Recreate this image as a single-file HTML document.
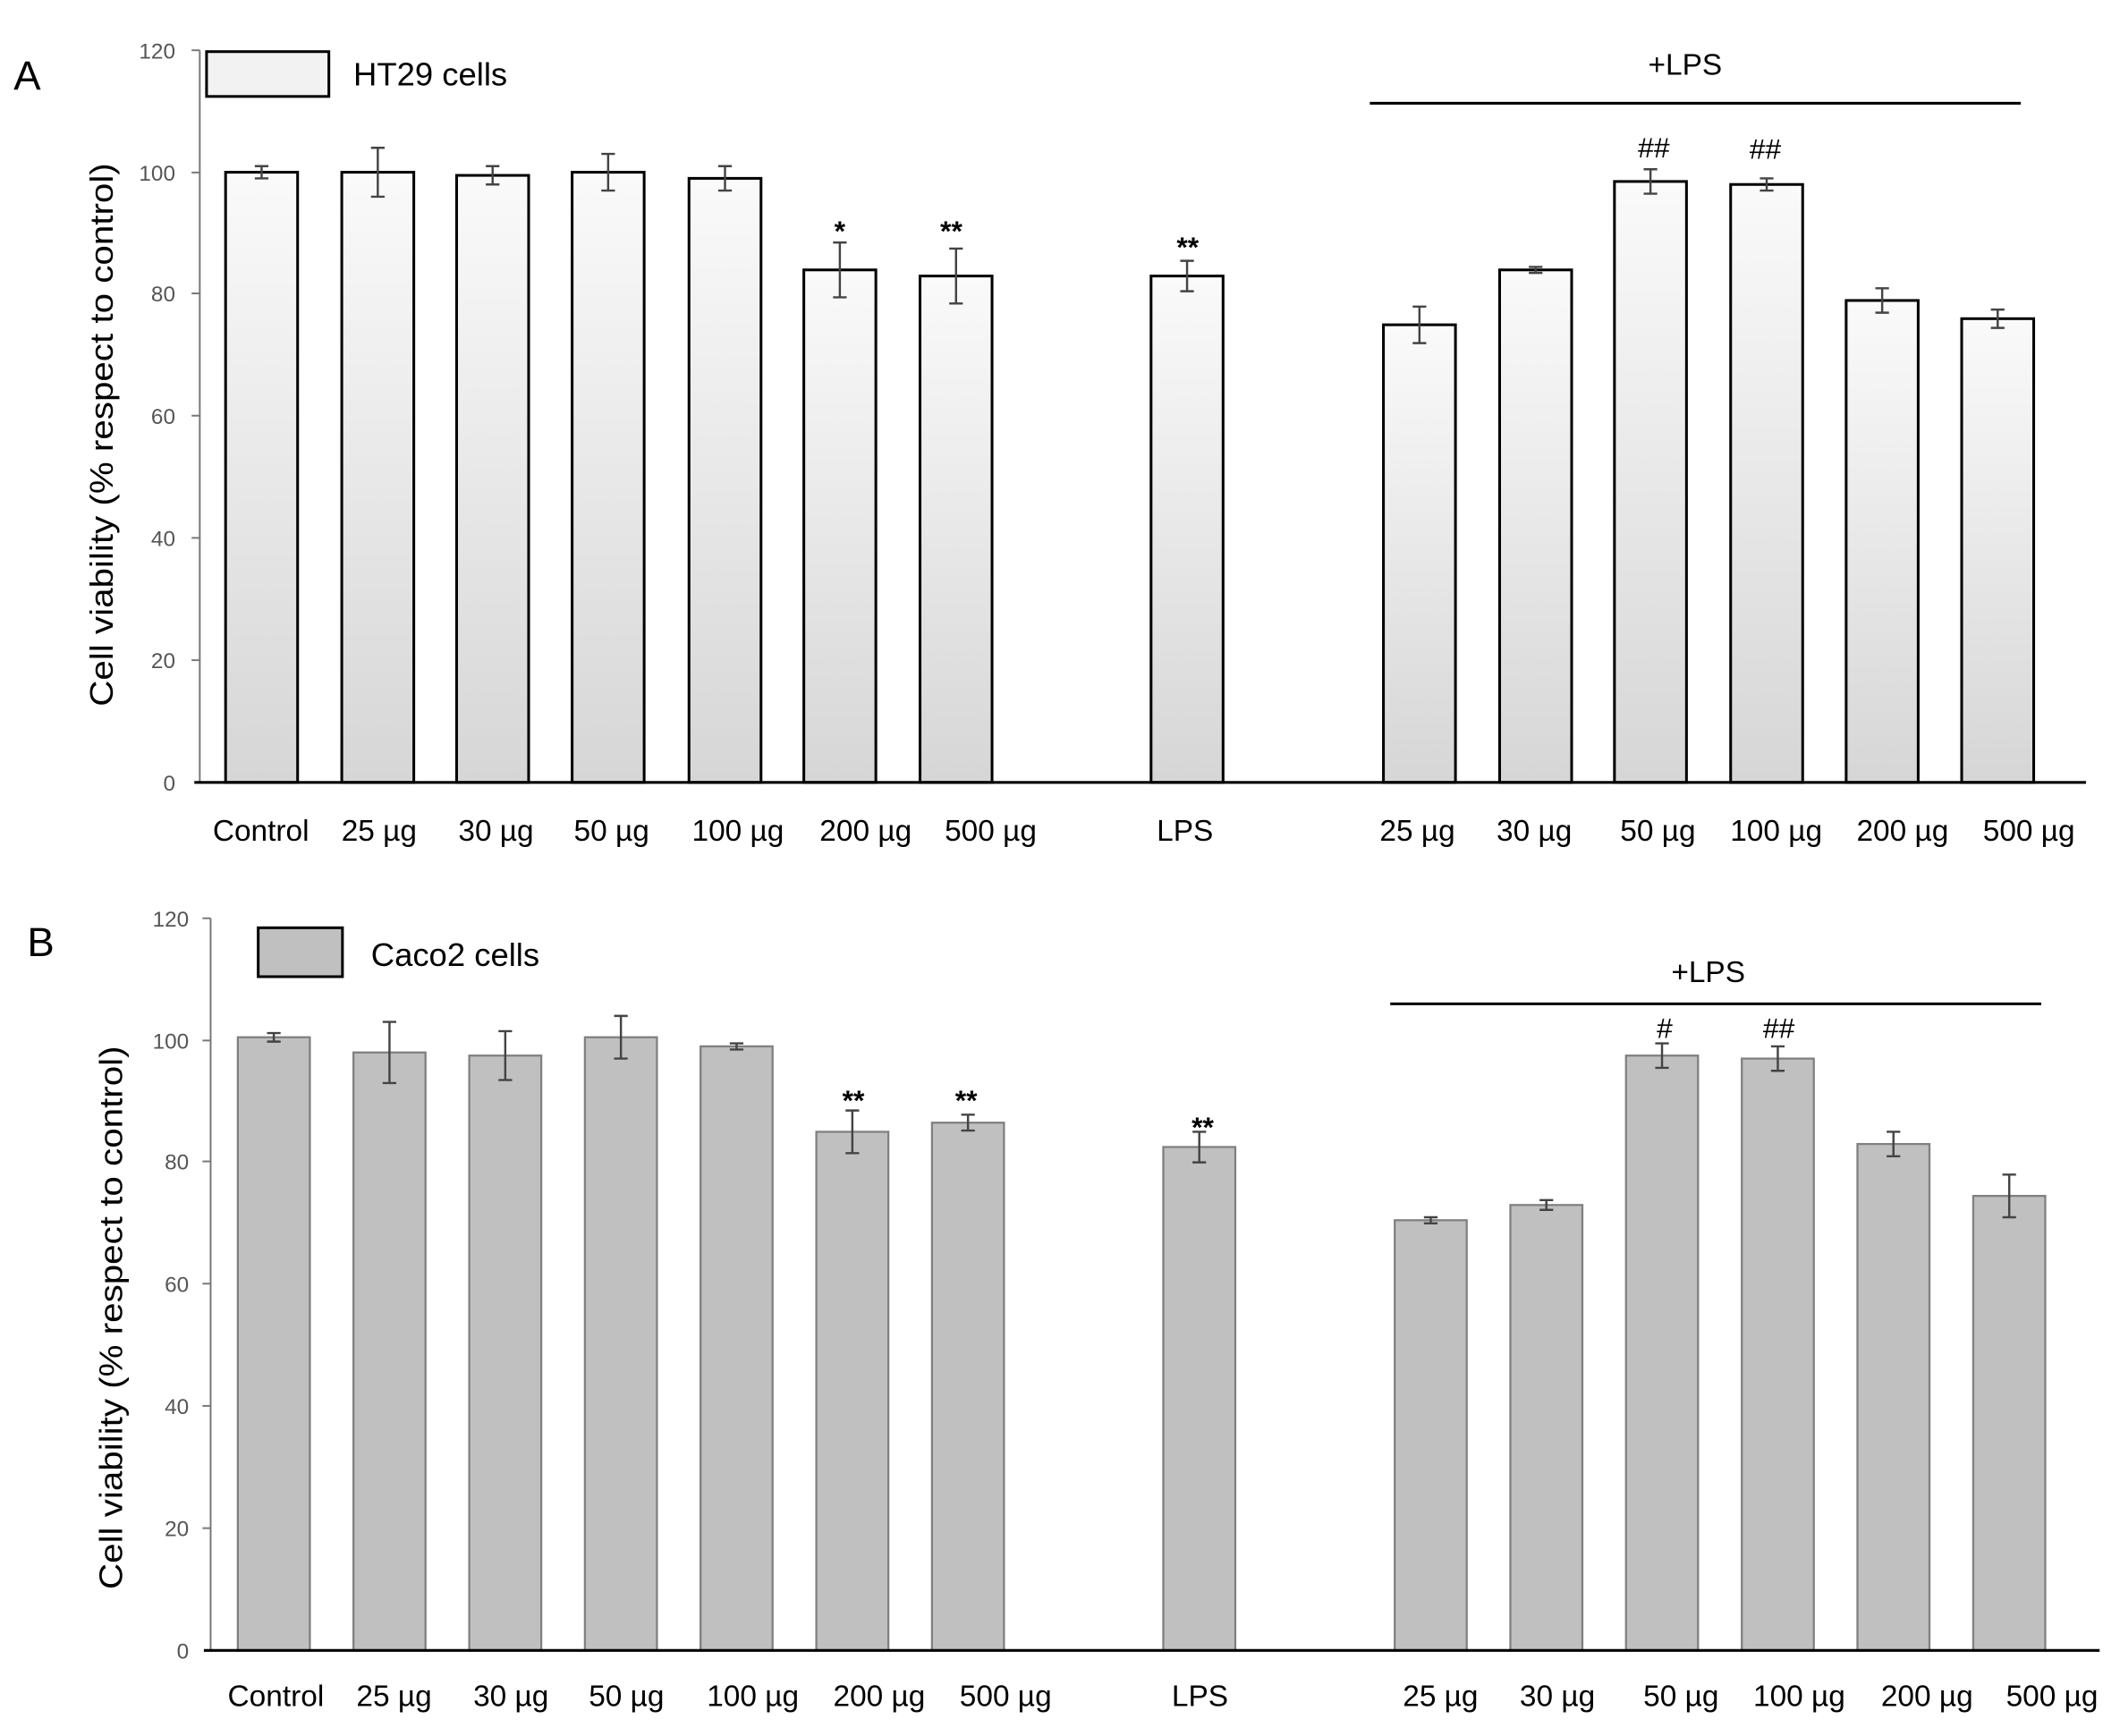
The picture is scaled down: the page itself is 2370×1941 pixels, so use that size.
<!DOCTYPE html>
<html><head><meta charset="utf-8"><style>html,body{margin:0;padding:0;background:#fff}svg{display:block}</style></head>
<body>
<svg width="2370" height="1941" viewBox="0 0 1560 1278" preserveAspectRatio="none" xmlns="http://www.w3.org/2000/svg" font-family="'Liberation Sans', sans-serif">
<defs>
<linearGradient id="g" x1="0" y1="0" x2="0" y2="1"><stop offset="0" stop-color="#fafafa"/><stop offset="1" stop-color="#d6d6d6"/></linearGradient>
</defs>
<!-- Panel A -->
<text x="10" y="66" font-size="30">A</text>
<g stroke="#777" stroke-width="1.3">
<line x1="147" y1="37" x2="147" y2="576"/>
<line x1="141" y1="37" x2="147" y2="37"/><line x1="141" y1="127" x2="147" y2="127"/><line x1="141" y1="216" x2="147" y2="216"/><line x1="141" y1="306" x2="147" y2="306"/><line x1="141" y1="396" x2="147" y2="396"/><line x1="141" y1="486" x2="147" y2="486"/>
</g>
<g font-size="16" fill="#555" text-anchor="end">
<text x="129" y="43">120</text><text x="129" y="133">100</text><text x="129" y="222">80</text><text x="129" y="312">60</text><text x="129" y="402">40</text><text x="129" y="492">20</text><text x="129" y="582">0</text>
</g>
<text transform="translate(83,320) rotate(-90)" font-size="23.5" text-anchor="middle" textLength="400" lengthAdjust="spacingAndGlyphs">Cell viability (% respect to control)</text>
<rect x="152" y="38" width="90" height="33" fill="#f2f2f2" stroke="#000" stroke-width="2"/>
<text x="260" y="63" font-size="24">HT29 cells</text>
<text x="1240" y="55" font-size="22" text-anchor="middle">+LPS</text>
<line x1="1008" y1="76" x2="1487" y2="76" stroke="#000" stroke-width="2"/>
<g fill="url(#g)" stroke="#000" stroke-width="2">
<rect x="166" y="126.8" width="53" height="449.2"/>
<rect x="251.5" y="126.8" width="53" height="449.2"/>
<rect x="336" y="129.1" width="53" height="446.9"/>
<rect x="421" y="126.8" width="53" height="449.2"/>
<rect x="507" y="131.3" width="53" height="444.7"/>
<rect x="591.5" y="198.7" width="53" height="377.3"/>
<rect x="677" y="203.2" width="53" height="372.8"/>
<rect x="847" y="203.2" width="53" height="372.8"/>
<rect x="1018" y="239.1" width="53" height="336.9"/>
<rect x="1103.5" y="198.7" width="53" height="377.3"/>
<rect x="1188" y="133.6" width="53" height="442.4"/>
<rect x="1273.5" y="135.8" width="53" height="440.2"/>
<rect x="1358.5" y="221.2" width="53" height="354.8"/>
<rect x="1443.5" y="234.6" width="53" height="341.4"/>
</g>
<line x1="143" y1="576" x2="1535" y2="576" stroke="#000" stroke-width="2"/>
<g stroke="#444" stroke-width="1.6" fill="none">
<path d="M192.5 122.3V131.3M187.5 122.3h10M187.5 131.3h10"/>
<path d="M278 108.8V144.8M273 108.8h10M273 144.8h10"/>
<path d="M362.5 122.3V135.8M357.5 122.3h10M357.5 135.8h10"/>
<path d="M447.5 113.3V140.3M442.5 113.3h10M442.5 140.3h10"/>
<path d="M533.5 122.3V140.3M528.5 122.3h10M528.5 140.3h10"/>
<path d="M618 178.5V218.9M613 178.5h10M613 218.9h10"/>
<path d="M703.5 183V223.4M698.5 183h10M698.5 223.4h10"/>
<path d="M873.5 192V214.4M868.5 192h10M868.5 214.4h10"/>
<path d="M1044.5 225.7V252.6M1039.5 225.7h10M1039.5 252.6h10"/>
<path d="M1130 196.5V200.9M1125 196.5h10M1125 200.9h10"/>
<path d="M1214.5 124.6V142.6M1209.5 124.6h10M1209.5 142.6h10"/>
<path d="M1300 131.3V140.3M1295 131.3h10M1295 140.3h10"/>
<path d="M1385 212.2V230.2M1380 212.2h10M1380 230.2h10"/>
<path d="M1470 227.9V241.4M1465 227.9h10M1465 241.4h10"/>
</g>
<g font-size="21" text-anchor="middle" font-weight="bold">
<text x="618" y="177">*</text><text x="700" y="177">**</text><text x="874" y="189">**</text>
<text x="1217" y="116" font-weight="normal">##</text><text x="1299" y="117" font-weight="normal">##</text>
</g>
<g font-size="22" text-anchor="middle">
<text x="192" y="619">Control</text><text x="279" y="619">25 µg</text><text x="365" y="619">30 µg</text><text x="450" y="619">50 µg</text><text x="543" y="619">100 µg</text><text x="637" y="619">200 µg</text><text x="729" y="619">500 µg</text>
<text x="872" y="619">LPS</text>
<text x="1043" y="619">25 µg</text><text x="1129" y="619">30 µg</text><text x="1220" y="619">50 µg</text><text x="1307" y="619">100 µg</text><text x="1400" y="619">200 µg</text><text x="1493" y="619">500 µg</text>
</g>

<!-- Panel B -->
<text x="20" y="704" font-size="30">B</text>
<g stroke="#777" stroke-width="1.3">
<line x1="155" y1="676" x2="155" y2="1215"/>
<line x1="149" y1="676" x2="155" y2="676"/><line x1="149" y1="766" x2="155" y2="766"/><line x1="149" y1="855" x2="155" y2="855"/><line x1="149" y1="945" x2="155" y2="945"/><line x1="149" y1="1035" x2="155" y2="1035"/><line x1="149" y1="1125" x2="155" y2="1125"/>
</g>
<g font-size="16" fill="#555" text-anchor="end">
<text x="139" y="682">120</text><text x="139" y="772">100</text><text x="139" y="861">80</text><text x="139" y="951">60</text><text x="139" y="1041">40</text><text x="139" y="1131">20</text><text x="139" y="1221">0</text>
</g>
<text transform="translate(90,970) rotate(-90)" font-size="23.5" text-anchor="middle" textLength="400" lengthAdjust="spacingAndGlyphs">Cell viability (% respect to control)</text>
<rect x="190" y="683" width="62" height="36" fill="#c0c0c0" stroke="#000" stroke-width="2"/>
<text x="273" y="711" font-size="24">Caco2 cells</text>
<text x="1257" y="723" font-size="22" text-anchor="middle">+LPS</text>
<line x1="1023" y1="739" x2="1502" y2="739" stroke="#000" stroke-width="2"/>
<g fill="#c0c0c0" stroke="#808080" stroke-width="1.5">
<rect x="175" y="763.6" width="53" height="451.4"/>
<rect x="260.1" y="774.8" width="53" height="440.2"/>
<rect x="345.3" y="777.1" width="53" height="437.9"/>
<rect x="430.4" y="763.6" width="53" height="451.4"/>
<rect x="515.5" y="770.3" width="53" height="444.7"/>
<rect x="600.7" y="833.2" width="53" height="381.8"/>
<rect x="685.8" y="826.5" width="53" height="388.5"/>
<rect x="856" y="844.4" width="53" height="370.6"/>
<rect x="1026.3" y="898.3" width="53" height="316.7"/>
<rect x="1111.4" y="887.1" width="53" height="327.9"/>
<rect x="1196.5" y="777.1" width="53" height="437.9"/>
<rect x="1281.7" y="779.3" width="53" height="435.7"/>
<rect x="1366.8" y="842.2" width="53" height="372.8"/>
<rect x="1452" y="880.4" width="53" height="334.6"/>
</g>
<line x1="150" y1="1215" x2="1545" y2="1215" stroke="#000" stroke-width="2"/>
<g stroke="#444" stroke-width="1.6" fill="none">
<path d="M201.5 760.5V766.8M196.5 760.5h10M196.5 766.8h10"/>
<path d="M286.6 752.3V797.3M281.6 752.3h10M281.6 797.3h10"/>
<path d="M371.8 759.1V795.1M366.8 759.1h10M366.8 795.1h10"/>
<path d="M456.9 747.9V779.3M451.9 747.9h10M451.9 779.3h10"/>
<path d="M542 768.1V772.6M537 768.1h10M537 772.6h10"/>
<path d="M627.2 817.5V848.9M622.2 817.5h10M622.2 848.9h10"/>
<path d="M712.3 820.6V832.3M707.3 820.6h10M707.3 832.3h10"/>
<path d="M882.5 833.2V855.7M877.5 833.2h10M877.5 855.7h10"/>
<path d="M1052.8 896.1V900.6M1047.8 896.1h10M1047.8 900.6h10"/>
<path d="M1137.9 883.5V890.7M1132.9 883.5h10M1132.9 890.7h10"/>
<path d="M1223 768.1V786.1M1218 768.1h10M1218 786.1h10"/>
<path d="M1308.2 770.3V788.3M1303.2 770.3h10M1303.2 788.3h10"/>
<path d="M1393.3 833.2V851.2M1388.3 833.2h10M1388.3 851.2h10"/>
<path d="M1478.5 864.7V896.1M1473.5 864.7h10M1473.5 896.1h10"/>
</g>
<g font-size="21" text-anchor="middle" font-weight="bold">
<text x="628" y="817">**</text><text x="711" y="817">**</text><text x="885" y="837">**</text>
<text x="1225" y="764" font-weight="normal">#</text><text x="1309" y="764" font-weight="normal">##</text>
</g>
<g font-size="22" text-anchor="middle">
<text x="203" y="1256">Control</text><text x="290" y="1256">25 µg</text><text x="376" y="1256">30 µg</text><text x="461" y="1256">50 µg</text><text x="554" y="1256">100 µg</text><text x="647" y="1256">200 µg</text><text x="740" y="1256">500 µg</text>
<text x="883" y="1256">LPS</text>
<text x="1060" y="1256">25 µg</text><text x="1146" y="1256">30 µg</text><text x="1237" y="1256">50 µg</text><text x="1324" y="1256">100 µg</text><text x="1418" y="1256">200 µg</text><text x="1510" y="1256">500 µg</text>
</g>
</svg>
</body></html>
